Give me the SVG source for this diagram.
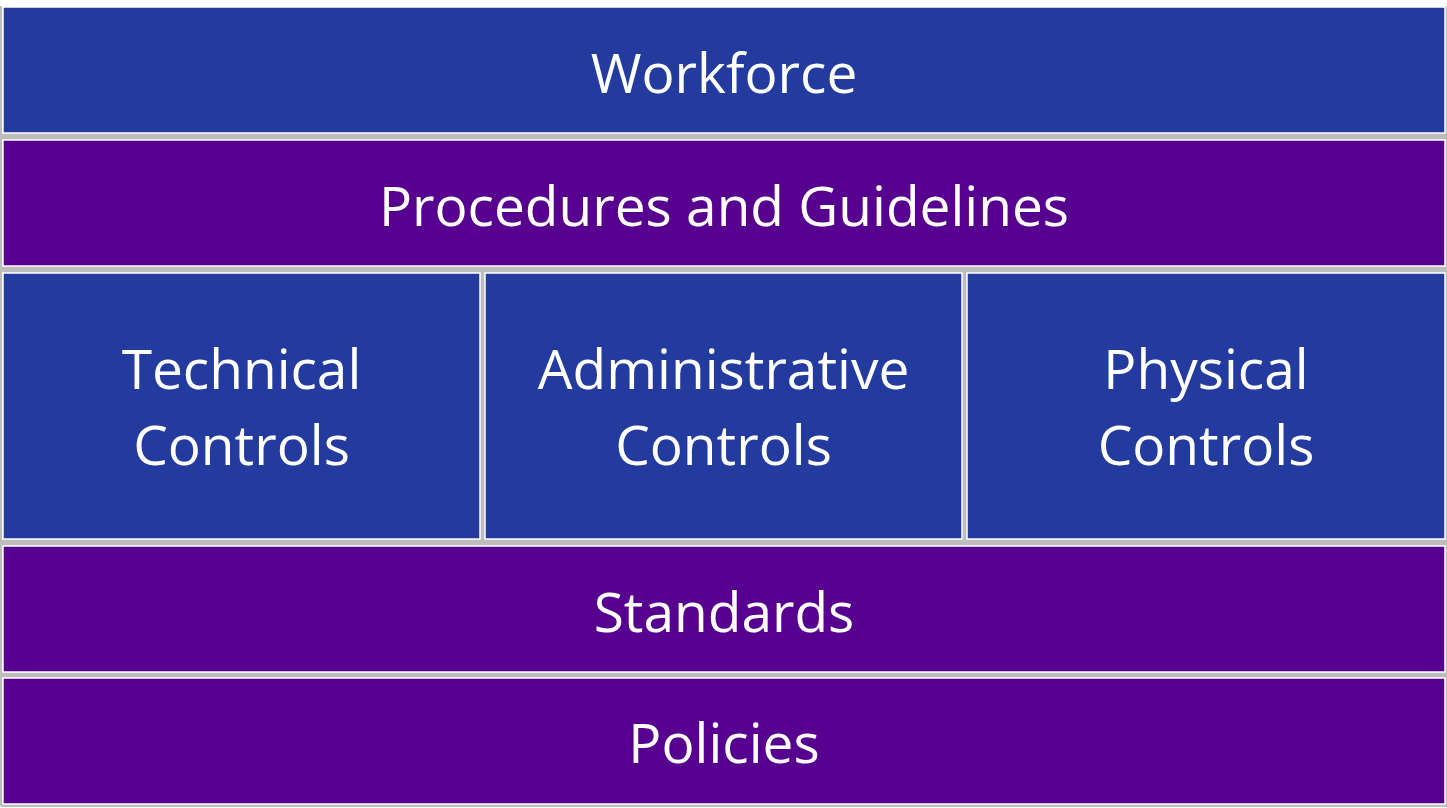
<svg xmlns="http://www.w3.org/2000/svg" width="1447" height="808" viewBox="0 0 1447 808">
  <style>
    .blue { fill: #233a9f; }
    .purple { fill: #57008f; }
    .box { stroke: #ffffff; stroke-width: 1.5; }
    .gap { fill: #bdbdbd; }
    .label { fill: #ffffff; font-family: "Open Sans", "Noto Sans", sans-serif; font-size: 55px; text-anchor: middle; }
  </style>
  <rect x="0" y="0" width="1447" height="808" fill="#ffffff"/>
  <!-- grey seams between the layers -->
  <g id="seams">
    <rect class="gap" x="1" y="133" width="1446" height="7"/>
    <rect class="gap" x="1" y="266" width="1446" height="7"/>
    <rect class="gap" x="1" y="539" width="1446" height="7"/>
    <rect class="gap" x="1" y="672" width="1446" height="6"/>
    <rect class="gap" x="480" y="272" width="5" height="268"/>
    <rect class="gap" x="962" y="272" width="5" height="268"/>
    <rect class="gap" x="1" y="804" width="1446" height="3"/>
    <rect class="gap" x="0" y="6" width="2" height="800"/>
    <rect class="gap" x="1445" y="6" width="2" height="800"/>
  </g>
  <g id="workforce">
    <rect class="blue box" x="3" y="7" width="1442" height="126"/>
    <text class="label" x="724" y="93">Workforce</text>
  </g>
  <g id="procedures">
    <rect class="purple box" x="3" y="140" width="1442" height="126"/>
    <text class="label" x="724" y="226">Procedures and Guidelines</text>
  </g>
  <g id="technical">
    <rect class="blue box" x="3" y="273" width="477" height="266"/>
    <text class="label" x="241.5" y="389">Technical</text>
    <text class="label" x="241.5" y="465">Controls</text>
  </g>
  <g id="administrative">
    <rect class="blue box" x="485" y="273" width="477" height="266"/>
    <text class="label" x="723.5" y="389">Administrative</text>
    <text class="label" x="723.5" y="465">Controls</text>
  </g>
  <g id="physical">
    <rect class="blue box" x="967" y="273" width="478" height="266"/>
    <text class="label" x="1206" y="389">Physical</text>
    <text class="label" x="1206" y="465">Controls</text>
  </g>
  <g id="standards">
    <rect class="purple box" x="3" y="546" width="1442" height="126"/>
    <text class="label" x="724" y="632">Standards</text>
  </g>
  <g id="policies">
    <rect class="purple box" x="3" y="678" width="1442" height="126"/>
    <text class="label" x="724" y="763">Policies</text>
  </g>
  <g id="connectors"/>
</svg>
